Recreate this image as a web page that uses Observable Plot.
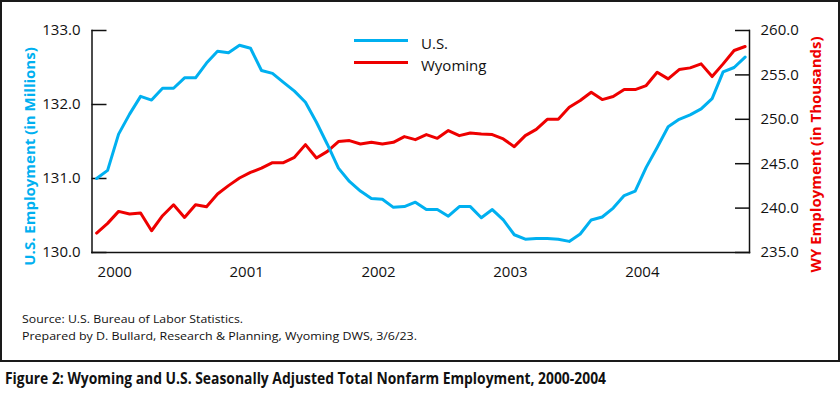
<!DOCTYPE html>
<html>
<head>
<meta charset="utf-8">
<script src="https://cdn.jsdelivr.net/npm/d3@7"></script>
<script src="https://cdn.jsdelivr.net/npm/@observablehq/plot@0.6"></script>
<style>
  html, body { margin: 0; padding: 0; background: #fff; }
  #wrap { position: relative; width: 840px; height: 393px; font-family: "Open Sans", sans-serif; }
  #box { position: absolute; left: 0; top: 0; width: 840px; height: 362px; }
  #border { position: absolute; left: 0; top: 0; width: 840px; height: 362px; box-sizing: border-box; border: 2px solid #1a1a1a; pointer-events: none; }
  #chart { position: absolute; left: 0; top: 0; }
  .leg { position: absolute; height: 3px; width: 54px; left: 354px; }
  .legt { position: absolute; left: 421px; font-size: 15px; line-height: 20px; color: #111; }
  .fit { position: absolute; white-space: nowrap; transform-origin: left center; display: inline-block; }
</style>
</head>
<body>
<div id="wrap">
  <div id="box">
    <div id="chart"></div>
    <div class="leg" id="legUS" style="top:39px"></div>
    <div class="leg" id="legWY" style="top:61px"></div>
    <div class="legt" id="legUSt" style="top:33px"></div>
    <div class="legt" id="legWYt" style="top:55px"></div>
    <div class="fit" id="src1" data-w="221" style="left:21.5px; top:311.3px; font-size:11.6px; line-height:16px; color:#111;"></div>
    <div class="fit" id="src2" data-w="395" style="left:21.5px; top:327.5px; font-size:11.6px; line-height:16px; color:#111;"></div>
    <div id="border"></div>
  </div>
  <div class="fit" id="cap" data-w="601" style="left:5px; top:366.5px; font-size:15.5px; line-height:22px; font-weight:bold; color:#111;"></div>
</div>
<script>
// ---- data ----
const seriesNames = ["U.S.", "Wyoming"];
const yearLabels = ["2000", "2001", "2002", "2003", "2004"];
const yearTickPos = [1.65, 13.65, 25.65, 37.65, 49.65]; // month index where each year label sits
const usTicks = [130, 131, 132, 133];
const wyTicks = [235, 240, 245, 250, 255, 260];

// U.S. total nonfarm employment (millions), monthly Jan 2000 - Dec 2004
const usValues = [
  131.00, 131.11, 131.60, 131.87, 132.11, 132.06, 132.22, 132.22, 132.36, 132.36, 132.56, 132.72,
  132.70, 132.80, 132.76, 132.46, 132.42, 132.30, 132.18, 132.03, 131.76, 131.46, 131.14, 130.96,
  130.83, 130.73, 130.72, 130.61, 130.62, 130.68, 130.58, 130.58, 130.49, 130.62, 130.62, 130.47,
  130.58, 130.44, 130.24, 130.18, 130.19, 130.19, 130.18, 130.15, 130.25, 130.44, 130.48, 130.60,
  130.77, 130.83, 131.15, 131.42, 131.70, 131.80, 131.86, 131.94, 132.08, 132.44, 132.50, 132.64
];
// Wyoming total nonfarm employment (thousands)
const wyValues = [
  237.19, 238.28, 239.63, 239.33, 239.45, 237.45, 239.14, 240.38, 238.95, 240.38, 240.16, 241.59,
  242.53, 243.39, 244.02, 244.50, 245.12, 245.12, 245.72, 247.15, 245.65, 246.39, 247.49, 247.60,
  247.22, 247.41, 247.22, 247.41, 248.05, 247.71, 248.28, 247.86, 248.73, 248.16, 248.46, 248.35,
  248.28, 247.79, 246.92, 248.16, 248.86, 250.00, 250.00, 251.35, 252.11, 253.05, 252.22, 252.56,
  253.35, 253.35, 253.80, 255.30, 254.55, 255.60, 255.79, 256.24, 254.81, 256.24, 257.75, 258.20
];

const BLUE = "#00B0F0";
const RED = "#EE0000";

// map the Wyoming (right) axis onto the U.S. (left) scale
const usDom = [130, 133], wyDom = [235, 260];
const wyToUs = w => usDom[0] + (w - wyDom[0]) * (usDom[1] - usDom[0]) / (wyDom[1] - wyDom[0]);
const usToWy = u => wyDom[0] + (u - usDom[0]) * (wyDom[1] - wyDom[0]) / (usDom[1] - usDom[0]);

const usData = usValues.map((v, i) => ({i, v}));
const wyData = wyValues.map((v, i) => ({i, v: wyToUs(v)}));

const chart = Plot.plot({
  width: 840,
  height: 290,
  marginLeft: 91.5,
  marginRight: 91,
  marginTop: 30,
  marginBottom: 38,
  style: {fontFamily: "'Open Sans', sans-serif", background: "transparent", color: "#111"},
  x: {domain: [-0.42, 59.4], label: null},
  y: {domain: usDom, label: null},
  marks: [
    Plot.axisX({ticks: yearTickPos, tickFormat: d => yearLabels[yearTickPos.indexOf(d)], tickSize: 0, tickPadding: 13.5, fontSize: 15, label: null}),
    Plot.axisY({anchor: "left", ticks: usTicks, tickFormat: d => d.toFixed(1), tickSize: 0, tickPadding: 11.5, fontSize: 15, label: null}),
    Plot.axisY({anchor: "left", ticks: usTicks, tickFormat: () => "", tickSize: 15, dx: 15, strokeWidth: 1.5, stroke: "#111", label: null}),
    Plot.axisY({anchor: "right", ticks: wyTicks.map(wyToUs), tickFormat: d => usToWy(d).toFixed(1), tickSize: 0, tickPadding: 11, fontSize: 15, label: null}),
    Plot.axisY({anchor: "right", ticks: wyTicks.map(wyToUs), tickFormat: () => "", tickSize: 15, dx: -15, strokeWidth: 1.5, stroke: "#111", label: null}),
    Plot.frame({anchor: "left", stroke: "#111", strokeWidth: 1.5}),
    Plot.frame({anchor: "right", stroke: "#111", strokeWidth: 1.5}),
    Plot.frame({anchor: "bottom", stroke: "#111", strokeWidth: 1.5}),
    Plot.line(wyData, {x: "i", y: "v", stroke: RED, strokeWidth: 3}),
    Plot.line(usData, {x: "i", y: "v", stroke: BLUE, strokeWidth: 3}),
    Plot.text(["U.S. Employment (in Millions)"], {frameAnchor: "left", rotate: -90, dx: -62, dy: 15, fill: BLUE, fontWeight: "bold", fontSize: 15, textAnchor: "middle", lineAnchor: "middle"}),
    Plot.text(["WY Employment (in Thousands)"], {frameAnchor: "right", rotate: -90, dx: 66.5, dy: 13, fill: RED, fontWeight: "bold", fontSize: 15, textAnchor: "middle", lineAnchor: "middle"})
  ]
});
document.getElementById("chart").appendChild(chart);

document.getElementById("legUS").style.background = BLUE;
document.getElementById("legWY").style.background = RED;
document.getElementById("legUSt").textContent = seriesNames[0];
document.getElementById("legWYt").textContent = seriesNames[1];
document.getElementById("src1").textContent = "Source: U.S. Bureau of Labor Statistics.";
document.getElementById("src2").textContent = "Prepared by D. Bullard, Research & Planning, Wyoming DWS, 3/6/23.";
document.getElementById("cap").textContent = "Figure 2: Wyoming and U.S. Seasonally Adjusted Total Nonfarm Employment, 2000-2004";

document.querySelectorAll(".fit").forEach(el => {
  const w = el.getBoundingClientRect().width;
  const target = +el.dataset.w;
  if (w > 0) el.style.transform = `scaleX(${target / w})`;
});
</script>
</body>
</html>
